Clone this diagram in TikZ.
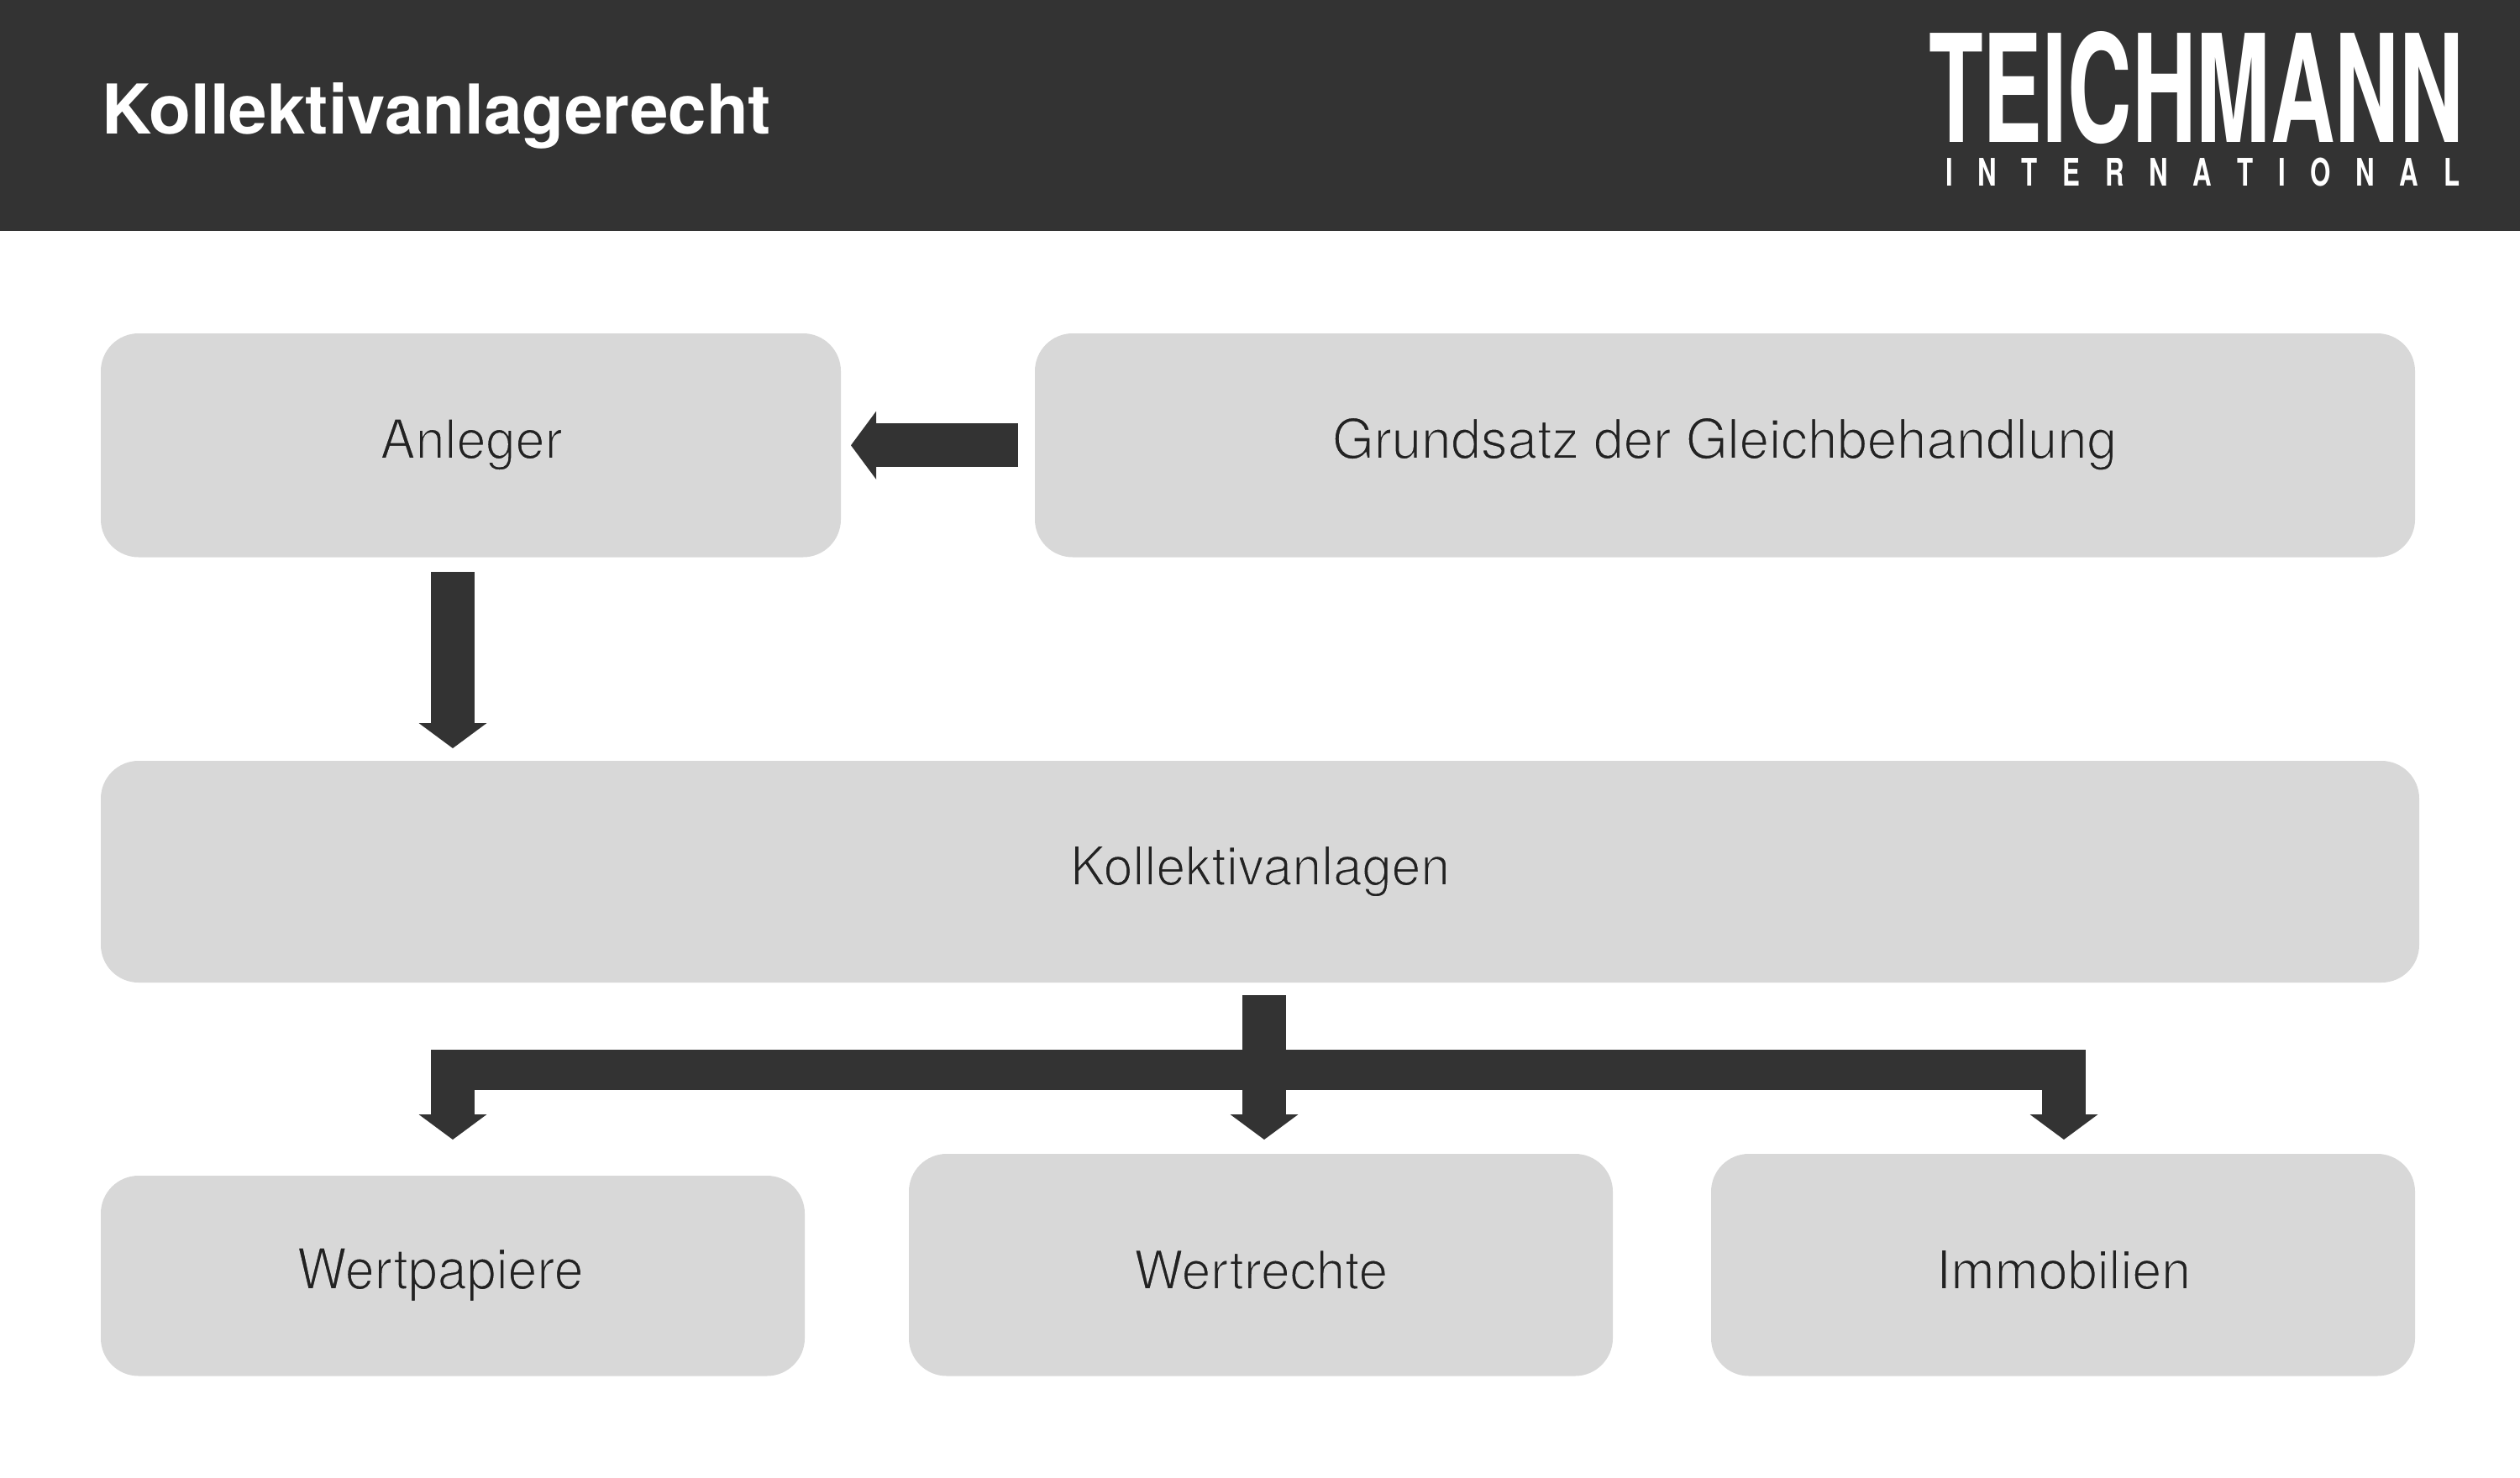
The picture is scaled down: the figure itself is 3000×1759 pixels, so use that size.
\documentclass[tikz,border=0pt]{standalone}
\usepackage{fontspec}
\usetikzlibrary{arrows.meta,calc}
\setmainfont{TeX Gyre Heros}
\definecolor{hdr}{HTML}{333333}
\definecolor{boxc}{HTML}{D8D8D8}
\definecolor{txt}{HTML}{222222}
\newcommand{\fitw}[2]{\resizebox{#1pt}{!}{\fontsize{60}{72}\selectfont #2}}
% thins the regular weight towards the light weight of the reference: outline in the box colour
\newcommand{\thinw}[2]{\resizebox{#1pt}{!}{\fontsize{60}{72}\selectfont\special{pdf:code q 2 Tr 0.847 0.847 0.847 RG 1.6 w}#2\special{pdf:code Q}}}
\tikzset{
  x=1pt,y=-1pt,
  box/.style={fill=boxc,rounded corners=45pt,inner sep=0pt,outer sep=0pt,anchor=north west},
  lab/.style={anchor=base,inner sep=0pt,text=txt},
  bigarrow/.style={draw=hdr,line width=52pt,-{Triangle[length=30pt,width=81pt,fill=hdr,line width=0pt]}},
  barline/.style={draw=hdr,line width=48pt},
}
\begin{document}
\begin{tikzpicture}
\useasboundingbox (0,0) rectangle (3000,1759);
\fill[white] (0,0) rectangle (3000,1759);
\fill[hdr] (0,0) rectangle (3000,275);
\node[anchor=base west,inner sep=0pt,text=white,font=\bfseries] (title) at (121,159) {\fitw{797}{Kollektivanlagerecht}};
\node[anchor=south west,inner sep=0pt,text=white,font=\bfseries] (logo1) at (2296,172) {\resizebox{636pt}{132pt}{TEICHMANN}};
\node[anchor=south west,inner sep=0pt,text=white,font=\bfseries] (logo2) at (2316,222.5) {\resizebox{612pt}{33.5pt}{\fontsize{46}{50}\selectfont\makebox[900pt][s]{I\hfill N\hfill T\hfill E\hfill R\hfill N\hfill A\hfill T\hfill I\hfill O\hfill N\hfill A\hfill L}}};

\node[box,minimum width=881pt,minimum height=266.5pt] (anleger) at (120,397) {};
\node[box,minimum width=1643pt,minimum height=266.5pt] (grund) at (1232,397) {};
\node[box,minimum width=2760pt,minimum height=264pt] (koll) at (120,906) {};
\node[box,minimum width=838pt,minimum height=238.5pt] (wp) at (120,1400) {};
\node[box,minimum width=838pt,minimum height=264.5pt] (wr) at (1082,1374) {};
\node[box,minimum width=838pt,minimum height=264.5pt] (im) at (2037,1374) {};

\node[lab] (tanleger) at (561,546) {\thinw{217}{\scalebox{1}[1.03]{Anleger}}};
\node[lab] (tgrund) at (2053,546) {\thinw{934}{\scalebox{1}[1.03]{Grundsatz der Gleichbehandlung}}};
\node[lab] (tkoll) at (1500,1054) {\thinw{452}{\scalebox{1}[1.03]{Kollektivanlagen}}};
\node[lab] (twp) at (524,1535) {\thinw{341}{\scalebox{1}[1.08]{Wertpapiere}}};
\node[lab] (twr) at (1501,1535) {\thinw{302}{\scalebox{1}[1.03]{Wertrechte}}};
\node[lab] (tim) at (2456.5,1535) {\thinw{303}{\scalebox{1}[1.03]{Immobilien}}};

\coordinate (xa) at (539,0);
\coordinate (xb) at (1505,0);
\coordinate (xc) at (2457,0);
\coordinate (barL) at (513,1274);
\coordinate (barR) at (2483,1274);
\coordinate (jL) at (539,1250);
\coordinate (jR) at (2457,1250);

\draw[bigarrow,shorten <=20pt,shorten >=12pt] (grund.west) -- (anleger.east);
\draw[bigarrow,shorten <=17.5pt,shorten >=15pt] (anleger.south -| xa) -- (koll.north -| xa);
\draw[barline] (barL) -- (barR);
\draw[bigarrow,shorten <=15pt,shorten >=17pt] (koll.south -| xb) -- (wr.north -| xb);
\draw[bigarrow,shorten >=43pt] (jL) -- (wp.north -| xa);
\draw[bigarrow,shorten >=17pt] (jR) -- (im.north -| xc);
\end{tikzpicture}
\end{document}
